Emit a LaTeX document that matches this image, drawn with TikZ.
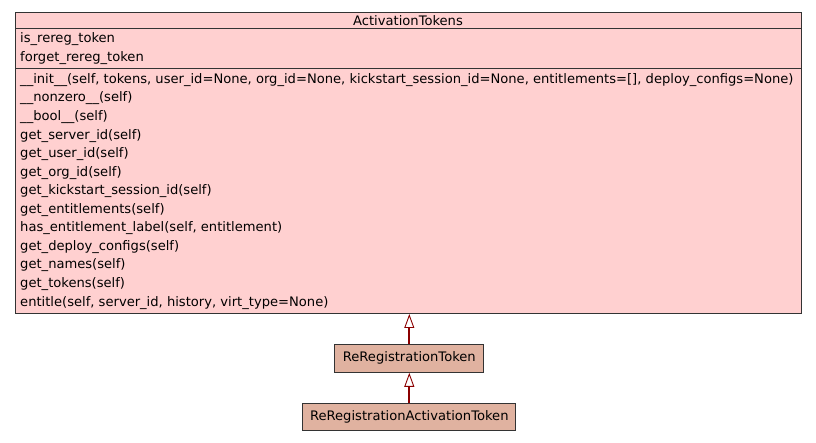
\documentclass[tikz,border=0pt]{standalone}
\usepackage{fontspec}
\setmainfont{DejaVu Sans}
\usetikzlibrary{arrows.meta,positioning,calc}
\definecolor{classPink}{HTML}{FFD0D0}
\definecolor{classTan}{HTML}{E0B2A0}
\definecolor{edgeRed}{HTML}{8B0000}
\tikzset{
  classBox/.style={draw=black!80,line width=1pt,inner sep=0pt},
  classText/.style={font=\fontsize{13.1}{15}\selectfont},
  memberText/.style={classText,anchor=west,inner sep=0pt},
  inherit/.style={draw=edgeRed,line width=1.8pt,
    -{Triangle[fill=white,line width=0.9pt,length=14pt,width=10pt]}},
}

\begin{document}
\begin{tikzpicture}[x=1pt,y=-1pt]
\useasboundingbox (0,0) rectangle (816,443);

% ===== ActivationTokens =====
\node[classBox,fill=classPink,minimum width=786pt,minimum height=301pt,anchor=north west]
  (actTok) at (15,12) {};
\node[classText] (actTitle) at (408,20.5) {ActivationTokens};
\draw[black!80,line width=1pt] (actTok.west |- 0,29) -- (actTok.east |- 0,29);
\draw[black!80,line width=1pt] (actTok.west |- 0,69) -- (actTok.east |- 0,69);

% attributes
\foreach [count=\i] \m in {is\_rereg\_token,forget\_rereg\_token} {
  \node[memberText] (attr\i) at (20,{21+18.3*\i}) {\m};
}

% methods
\foreach [count=\i] \m in {
  {\_\_init\_\_(self, tokens, user\_id=None, org\_id=None, kickstart\_session\_id=None, entitlements=[], deploy\_configs=None)},
  {\_\_nonzero\_\_(self)},
  {\_\_bool\_\_(self)},
  {get\_server\_id(self)},
  {get\_user\_id(self)},
  {get\_org\_id(self)},
  {get\_kickstart\_session\_id(self)},
  {get\_entitlements(self)},
  {has\_entitlement\_label(self, entitlement)},
  {get\_deploy\_configs(self)},
  {get\_names(self)},
  {get\_tokens(self)},
  {entitle(self, server\_id, history, virt\_type=None)}} {
  \node[memberText] (meth\i) at (20,{80+18.55*(\i-1)}) {\m};
}

% ===== subclasses =====
\node[classBox,classText,fill=classTan,minimum width=149pt,minimum height=28pt]
  (reregTok) at (409.3,358.3) {ReRegistrationToken};
\node[classBox,classText,fill=classTan,minimum width=213pt,minimum height=27.5pt]
  (reregActTok) at (409.3,417) {ReRegistrationActivationToken};

% ===== inheritance =====
\draw[inherit] (reregTok.north) -- (reregTok.north |- actTok.south);
\draw[inherit] (reregActTok.north) -- (reregTok.south);

\end{tikzpicture}
\end{document}
